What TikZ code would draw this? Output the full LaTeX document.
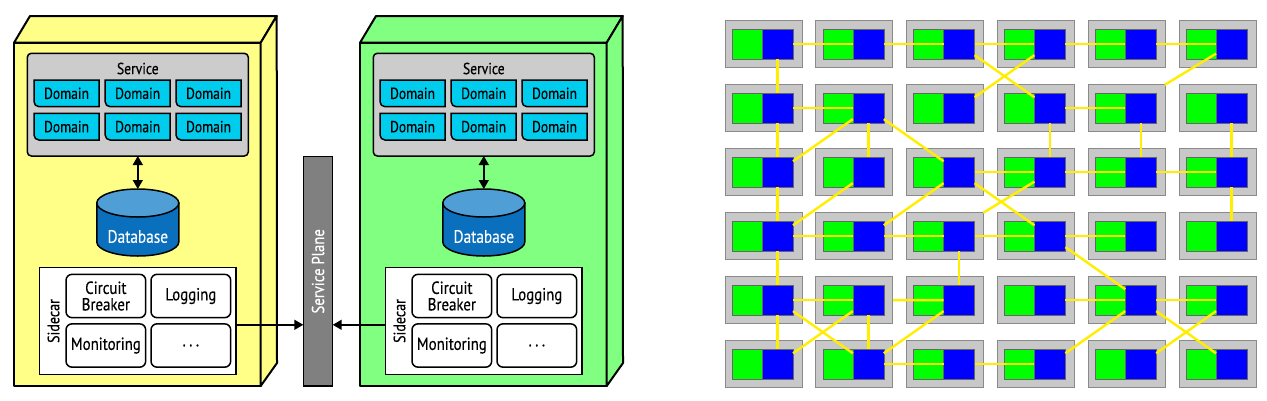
\documentclass[tikz,border=0pt]{standalone}
\usepackage{fontspec}
\setmainfont[FakeStretch=0.85, FakeBold=0.4]{PT Sans}
\usetikzlibrary{arrows.meta}
\definecolor{podyellow}{HTML}{FFFF88}
\definecolor{podgreen}{HTML}{80FF80}
\definecolor{domcyan}{HTML}{00CCEE}
\definecolor{dbtop}{HTML}{4F9FD6}
\definecolor{dbbody}{HTML}{0A6FBD}
\definecolor{planegray}{HTML}{808080}
\definecolor{cellgray}{HTML}{C8C8C8}
\definecolor{cellline}{HTML}{8A8A8A}
\definecolor{gridgreen}{HTML}{00FF00}
\definecolor{gridblue}{HTML}{0000FF}
\definecolor{linkyellow}{HTML}{FFEE00}
\tikzset{
  every node/.style={inner sep=0pt, outer sep=0pt, font=\fontsize{16}{17}\selectfont},
  bigtext/.style={font=\fontsize{17.5}{16.5}\selectfont},
  podface/.style={draw=black, line width=2pt, line join=round},
  svcbox/.style={draw=black, line width=1.5pt, fill=black!20, rounded corners=4pt, minimum width=221pt, minimum height=102.7pt},
  domnode/.style={minimum width=65pt, minimum height=26.7pt},
  domshape/.style={draw=black, line width=1.5pt, fill=domcyan},
  dbnode/.style={minimum width=82pt, minimum height=67pt},
  sidebox/.style={draw=black, line width=1.2pt, fill=white, minimum width=196.7pt, minimum height=107pt},
  feat/.style={draw=black, line width=1.5pt, fill=white, rounded corners=6pt, minimum width=79.7pt, minimum height=43.3pt, align=center, bigtext},
  planebox/.style={draw=black, line width=1.5pt, fill=planegray, minimum width=29.4pt, minimum height=229.3pt},
  arr/.style={line width=1.5pt, -{Triangle[length=9pt,width=10pt]}},
  dbl/.style={line width=1.5pt, {Triangle[length=9pt,width=10pt]}-{Triangle[length=9pt,width=10pt]}},
  cell/.style={draw=cellline, line width=0.9pt, fill=cellgray, minimum width=77pt, minimum height=46.5pt},
  gsq/.style={draw=black!60, line width=0.6pt, fill=gridgreen, minimum width=30pt, minimum height=30.5pt},
  bsq/.style={draw=black!60, line width=0.6pt, fill=gridblue, minimum width=31pt, minimum height=30.5pt},
  link/.style={draw=linkyellow, line width=2.4pt},
}
\newcommand\podunit[3]{%
\begin{scope}[xshift=#2pt, name prefix=#1-]
  \node[podface, fill=#3, minimum width=246.7pt, minimum height=343.3pt] (front) at (137.35,214.35) {};
  \draw[podface, fill=#3] (front.north west) -- ++(16,-26.7) -- ++(246.7,0) -- (front.north east) -- cycle;
  \draw[podface, fill=#3] (front.north east) -- ++(16,-26.7) -- (277,363) -- (front.south east) -- cycle;
  \node[svcbox] (svc) at (137.8,104.65) {};
  \node (svclabel) at (137.8,68.5) {Service};
  \node[domnode] (d1) at (66.5,93.35) {};
  \node[domnode] (d2) at (137.65,93.35) {};
  \node[domnode] (d3) at (208.5,93.35) {};
  \node[domnode] (d4) at (66.5,126.65) {};
  \node[domnode] (d5) at (137.65,126.65) {};
  \node[domnode] (d6) at (208.5,126.65) {};
  \foreach \n in {d1,d2,d3,d4,d5,d6}{
    \draw[domshape] (\n.north west) -- (\n.north east) -- (\n.south east) [rounded corners=5pt] -- (\n.south west) [sharp corners] -- cycle;
    \node[domnode] at (\n) {Domain};
  }
  \node[dbnode] (db) at (137.8,222.5) {};
  \draw[draw=black, line width=1.5pt, fill=dbbody] (96.8,203) -- (96.8,242) arc[start angle=180, end angle=360, x radius=41pt, y radius=14pt] -- (178.8,203) -- cycle;
  \draw[draw=black, line width=1.5pt, fill=dbtop] (137.8,203) ellipse[x radius=41pt, y radius=14pt];
  \node[text=white, font=\fontsize{18}{18}\selectfont] (dblabel) at (137.8,236.5) {Database};
  \draw[dbl] (svc.south) -- (db.north);
  \node[sidebox] (side) at (137.65,320.8) {};
  \node[rotate=90, font=\fontsize{16.5}{17}\selectfont] (sidelabel) at (53.5,321) {Sidecar};
  \node[feat] (cb) at (105.85,296) {Circuit\\Breaker};
  \node[feat] (log) at (190.85,296) {Logging};
  \node[feat] (mon) at (105.85,345.5) {Monitoring};
  \node[feat] (etc) at (190.85,345.5) {.\hspace{3.5pt}.\hspace{3.5pt}.};
\end{scope}}
\begin{document}
\begin{tikzpicture}[x=1pt, y=-1pt]
\useasboundingbox (0,0) rectangle (1267,400);
\podunit{L}{0}{podyellow}
\podunit{R}{346}{podgreen}
\node[planebox] (plane) at (318,271.35) {};
\node[rotate=90, text=white, font=\fontsize{17.3}{17}\selectfont] (planelabel) at (318,271.35) {Service Plane};
\draw[arr] ([yshift=-4pt]L-side.east) -- ([yshift=-4pt]L-side.east -| plane.west);
\draw[arr] ([yshift=-4pt]R-side.west) -- ([yshift=-4pt]R-side.west -| plane.east);
% grid
\foreach \r in {0,...,5}{
  \foreach \c in {0,...,5}{
    \pgfmathsetmacro\X{725+90.8*\c}
    \pgfmathsetmacro\Y{20.8+64*\r}
    \node[cell] (c-\r-\c) at ({\X+38.5},{\Y+23.25}) {};
    \node[gsq] (g-\r-\c) at ({\X+22},{\Y+23.4}) {};
    \node[bsq] (b-\r-\c) at ({\X+52.5},{\Y+23.4}) {};
  }
}
\foreach \a/\b in {0-0/0-1,0-1/0-2,0-2/0-3,0-3/0-4,0-4/0-5,
  0-0/1-0,0-2/1-3,0-3/1-2,
  1-0/1-1,1-0/2-0,1-1/2-0,1-1/2-1,1-1/2-2,1-3/1-4,1-3/2-3,1-4/2-4,1-5/2-5,
  2-0/3-0,2-1/3-0,2-2/3-1,2-2/2-3,2-2/3-3,2-3/2-4,2-4/2-5,2-5/3-5,
  3-0/3-1,3-1/3-2,3-2/3-3,3-3/3-4,3-0/4-0,3-2/4-2,3-3/4-4,
  4-0/4-1,4-0/5-0,4-0/5-1,4-1/5-0,4-1/5-1,4-2/5-1,4-3/4-4,4-4/4-5,4-4/5-3,4-4/5-5,4-5/5-4,
  5-1/5-2,5-2/5-3}{
  \draw[link] (b-\a) -- (b-\b);
}
\draw[link] (b-0-5) -- (c-1-4);
\draw[link] (b-2-3) -- (c-3-2);
\draw[link] (c-4-1) -- (b-4-2);
\end{tikzpicture}
\end{document}
